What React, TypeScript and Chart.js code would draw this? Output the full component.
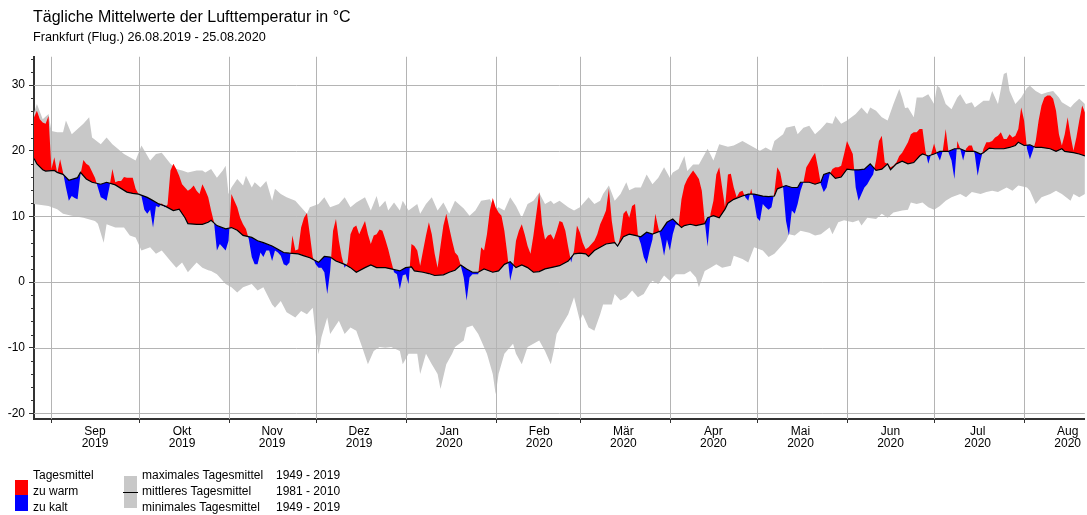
import React, { useEffect, useRef } from "react";
import { Chart, registerables } from "chart.js";

Chart.register(...registerables);

// x values are day offsets: day 0 = 26.08.2019, day 365 = 25.08.2020
const monthStarts = [6, 36, 67, 97, 128, 159, 188, 219, 249, 280, 310, 341];
const monthNames = ["Sep", "Okt", "Nov", "Dez", "Jan", "Feb", "Mär", "Apr", "Mai", "Jun", "Jul", "Aug"];
const monthYears = ["2019", "2019", "2019", "2019", "2020", "2020", "2020", "2020", "2020", "2020", "2020", "2020"];
const yTicks = [-20, -10, 0, 10, 20, 30];

// mittleres Tagesmittel 1981 - 2010
const meanSeries: [number, number][] = [
  [0, 18.8], [1, 18.0], [3, 17.1], [4, 16.9], [7, 17.0], [8, 16.7], [10, 16.4], [12, 15.5], [15, 15.9], [16, 16.7],
  [18, 15.7], [20, 15.2], [23, 14.9], [25, 15.2], [28, 14.8], [32, 13.7], [34, 13.5], [36, 13.4], [39, 12.9], [41, 12.4],
  [43, 11.9], [45, 11.6], [48, 10.9], [50, 11.1], [52, 9.8], [53, 8.9], [56, 8.8], [58, 8.8], [60, 9.1], [61, 9.4],
  [63, 8.6], [66, 8.1], [68, 8.3], [70, 7.9], [72, 7.1], [75, 6.8], [77, 6.3], [79, 6.0], [82, 5.5], [84, 5.0],
  [86, 4.5], [88, 4.4], [91, 4.3], [93, 4.0], [95, 3.7], [98, 3.0], [100, 3.9], [102, 3.8], [104, 3.2], [107, 2.7],
  [109, 2.2], [111, 1.5], [114, 2.2], [116, 2.6], [118, 2.2], [121, 2.2], [123, 2.0], [126, 1.7], [128, 2.2], [130, 2.3],
  [131, 1.7], [134, 1.5], [136, 1.3], [138, 1.0], [141, 1.1], [143, 1.5], [145, 1.8], [147, 2.6], [149, 2.0], [151, 1.5],
  [153, 1.5], [155, 2.0], [158, 1.5], [160, 1.7], [162, 2.7], [164, 3.1], [166, 2.2], [168, 2.6], [170, 2.2], [172, 1.5],
  [174, 1.6], [176, 2.0], [178, 2.2], [181, 2.5], [184, 3.2], [186, 4.3], [188, 4.4], [190, 4.3], [191, 3.9], [193, 4.8],
  [195, 5.3], [197, 5.8], [200, 6.0], [201, 5.5], [203, 6.9], [205, 7.3], [207, 7.1], [209, 6.9], [211, 7.6], [213, 7.3],
  [216, 7.8], [218, 9.1], [220, 9.6], [223, 8.3], [224, 8.6], [226, 8.8], [228, 8.6], [231, 8.9], [232, 9.8], [234, 10.1],
  [236, 9.8], [238, 11.1], [239, 12.0], [241, 12.6], [244, 13.1], [246, 13.4], [248, 13.4], [251, 13.1], [253, 13.0], [255, 13.1],
  [256, 14.2], [259, 14.7], [261, 14.4], [263, 14.4], [264, 15.2], [267, 15.2], [269, 14.9], [271, 15.2], [272, 16.4], [274, 16.7],
  [276, 15.8], [278, 16.0], [280, 17.2], [282, 17.1], [284, 17.1], [286, 17.2], [288, 18.0], [290, 17.0], [292, 17.2], [294, 18.0],
  [295, 17.1], [297, 18.0], [299, 18.4], [301, 18.0], [303, 18.2], [305, 19.2], [306, 19.5], [308, 19.2], [310, 19.5], [311, 19.7],
  [312, 19.9], [314, 19.9], [315, 19.9], [317, 20.3], [319, 20.3], [321, 19.9], [322, 19.9], [324, 19.9], [326, 19.5], [327, 19.7],
  [329, 20.4], [331, 20.3], [334, 20.3], [336, 20.5], [338, 20.8], [339, 21.3], [341, 20.8], [343, 20.9], [345, 20.5], [347, 20.5],
  [350, 20.3], [352, 19.9], [354, 20.3], [355, 19.9], [358, 19.7], [360, 19.5], [362, 19.2], [365, 19.3],
];

// maximales Tagesmittel 1949 - 2019
const maxSeries: [number, number][] = [
  [0, 25.8], [1, 27.1], [3, 24.8], [5, 25.6], [6, 23.0], [8, 22.8], [10, 22.8], [11, 24.6], [13, 22.5], [17, 24.1],
  [19, 25.1], [20, 22.0], [23, 21.0], [25, 22.0], [27, 21.0], [31, 19.5], [33, 19.0], [35, 18.5], [37, 20.8], [40, 18.5],
  [42, 19.5], [44, 19.7], [47, 18.0], [49, 17.2], [51, 17.0], [53, 16.7], [56, 17.0], [58, 17.0], [59, 16.7], [61, 17.2],
  [63, 15.9], [65, 17.0], [66, 17.7], [67, 13.4], [68, 14.4], [70, 15.7], [72, 14.7], [73, 16.2], [75, 14.4], [76, 15.2],
  [78, 14.4], [80, 15.4], [82, 12.4], [83, 14.2], [85, 13.4], [87, 12.9], [90, 12.4], [92, 11.4], [94, 10.4], [95, 11.4],
  [98, 11.9], [100, 12.9], [102, 11.4], [105, 11.9], [107, 12.9], [109, 11.4], [111, 12.1], [114, 12.9], [116, 10.9], [118, 13.1],
  [119, 11.4], [121, 12.4], [122, 10.9], [124, 12.1], [126, 10.9], [127, 12.4], [129, 10.9], [132, 11.9], [133, 10.4], [135, 11.9],
  [137, 12.9], [139, 10.9], [141, 12.1], [143, 10.4], [145, 12.4], [148, 11.2], [150, 10.1], [152, 10.9], [154, 12.4], [157, 12.6],
  [159, 11.0], [160, 11.4], [162, 10.9], [164, 12.9], [166, 11.6], [168, 9.8], [170, 11.9], [172, 12.4], [174, 13.6], [176, 11.9],
  [178, 12.4], [179, 11.9], [181, 12.4], [184, 11.4], [186, 10.9], [188, 11.4], [191, 12.9], [193, 11.9], [195, 12.4], [196, 13.4],
  [198, 14.7], [200, 12.4], [202, 13.4], [204, 15.2], [205, 14.0], [207, 14.4], [209, 14.4], [211, 16.4], [213, 14.9], [215, 15.9],
  [217, 17.5], [219, 15.9], [220, 16.7], [222, 17.2], [224, 19.2], [225, 16.9], [227, 17.9], [229, 17.9], [232, 20.3], [234, 18.5],
  [236, 21.0], [239, 20.6], [241, 20.8], [244, 21.5], [246, 21.0], [248, 20.5], [250, 20.0], [252, 20.5], [254, 20.0], [255, 21.5],
  [258, 22.5], [259, 23.5], [262, 23.8], [263, 22.5], [265, 23.5], [267, 23.8], [269, 22.5], [271, 23.3], [273, 24.3], [275, 24.1],
  [276, 25.3], [278, 24.1], [280, 24.6], [283, 25.6], [285, 26.6], [287, 25.6], [288, 26.6], [290, 26.1], [292, 25.1], [294, 24.6],
  [296, 27.1], [298, 29.4], [299, 28.1], [300, 26.5], [301, 26.6], [303, 25.1], [304, 28.1], [306, 28.1], [308, 28.6], [310, 27.1],
  [311, 29.9], [312, 29.6], [314, 27.1], [316, 26.3], [318, 28.1], [319, 28.6], [321, 27.1], [323, 27.4], [324, 26.6], [327, 27.6],
  [329, 27.6], [330, 29.1], [332, 27.1], [334, 31.7], [335, 31.9], [336, 29.1], [338, 27.1], [340, 28.1], [342, 29.6], [343, 29.9],
  [345, 29.1], [347, 28.6], [349, 28.9], [351, 29.1], [353, 28.1], [354, 27.4], [357, 26.6], [358, 27.1], [360, 27.9], [362, 27.1],
  [365, 27.5],
];

// minimales Tagesmittel 1949 - 2019
const minSeries: [number, number][] = [
  [0, 11.9], [5, 11.6], [8, 11.1], [10, 10.4], [13, 10.1], [17, 9.8], [21, 9.3], [22, 8.9], [24, 6.0], [25, 8.8],
  [28, 8.3], [31, 8.3], [33, 7.1], [35, 6.8], [37, 4.8], [40, 5.3], [42, 4.3], [44, 4.8], [47, 3.2], [49, 2.2],
  [51, 3.0], [53, 1.5], [56, 3.0], [58, 2.2], [60, 1.8], [61, 1.7], [63, 1.2], [66, -0.3], [68, -0.8], [70, -1.6],
  [72, -0.8], [75, -0.3], [77, -1.3], [79, -0.8], [82, -3.4], [83, -3.9], [85, -2.9], [87, -4.6], [90, -5.4], [92, -4.4],
  [94, -4.9], [96, -3.9], [97, -7.9], [98, -11.0], [99, -8.4], [101, -5.4], [102, -7.9], [105, -5.9], [107, -7.9], [109, -6.9],
  [111, -7.4], [113, -9.9], [115, -12.5], [117, -10.5], [119, -9.9], [121, -10.0], [123, -9.9], [126, -10.5], [127, -12.5], [129, -10.9],
  [132, -10.9], [133, -14.0], [135, -10.9], [137, -12.5], [139, -14.0], [140, -16.3], [142, -12.5], [144, -10.9], [145, -9.9], [148, -8.9],
  [149, -6.9], [151, -6.6], [153, -7.9], [154, -8.9], [156, -10.9], [158, -14.0], [159, -17.1], [160, -14.0], [162, -10.9], [164, -9.9],
  [165, -9.4], [166, -10.9], [168, -12.5], [170, -9.9], [172, -9.4], [174, -8.9], [176, -10.5], [178, -12.5], [179, -10.5], [180, -7.9],
  [182, -6.4], [184, -4.9], [186, -2.3], [188, -5.9], [189, -4.9], [191, -6.9], [193, -7.4], [195, -4.9], [196, -3.4], [199, -3.4],
  [200, -1.8], [202, -2.8], [204, -2.3], [206, -1.3], [208, -2.3], [210, -1.8], [212, -0.3], [213, 0.2], [215, -0.3], [217, 1.0],
  [219, 0.2], [221, 1.2], [224, 1.2], [226, 1.7], [228, 0.7], [229, -0.8], [231, 1.7], [233, 2.2], [235, 2.7], [237, 2.2],
  [240, 2.5], [241, 4.0], [244, 3.5], [246, 3.0], [248, 5.3], [251, 4.8], [253, 3.8], [255, 4.3], [257, 5.3], [259, 6.3],
  [260, 7.3], [262, 7.1], [264, 7.8], [267, 7.5], [269, 7.1], [271, 7.3], [274, 8.3], [275, 7.3], [277, 9.1], [279, 9.4],
  [282, 9.1], [284, 9.4], [285, 8.6], [287, 9.8], [290, 9.6], [292, 10.4], [294, 9.8], [296, 10.6], [299, 10.9], [301, 11.0],
  [302, 12.1], [304, 11.9], [306, 12.1], [308, 11.4], [310, 11.0], [312, 11.6], [314, 12.4], [316, 12.9], [319, 13.4], [321, 12.9],
  [323, 13.7], [326, 13.4], [328, 13.7], [330, 13.9], [332, 13.7], [335, 14.4], [337, 13.9], [339, 14.7], [342, 14.4], [343, 13.9],
  [345, 11.9], [347, 12.9], [350, 13.4], [352, 13.9], [354, 13.4], [357, 12.4], [358, 13.4], [360, 12.9], [362, 13.4], [365, 13.0],
];

// Tagesmittel 26.08.2019 - 25.08.2020 (Frankfurt Flughafen)
const actualSeries: [number, number][] = [
  [0, 25.1], [1, 26.1], [2, 24.8], [3, 24.3], [4, 24.1], [5, 25.3], [6, 17.2], [7, 19.0], [8, 16.6], [9, 18.7],
  [10, 16.7], [11, 14.4], [12, 12.4], [13, 13.1], [14, 12.8], [15, 12.6], [16, 16.4], [17, 18.6], [18, 18.0], [19, 17.7],
  [20, 16.8], [21, 15.9], [22, 14.4], [23, 12.9], [24, 12.7], [25, 12.4], [26, 14.5], [27, 17.2], [28, 15.2], [29, 15.4],
  [30, 15.4], [31, 16.0], [32, 15.9], [33, 15.9], [34, 15.9], [35, 14.2], [36, 13.4], [37, 13.1], [38, 11.0], [39, 10.4],
  [40, 11.0], [41, 8.3], [42, 11.6], [43, 11.4], [44, 12.0], [45, 11.4], [46, 11.8], [47, 17.0], [48, 18.0], [49, 17.2],
  [50, 16.2], [51, 14.9], [52, 14.4], [53, 13.9], [54, 14.2], [55, 14.7], [56, 13.9], [57, 13.4], [58, 14.9], [59, 14.0],
  [60, 12.9], [61, 10.9], [62, 9.1], [63, 4.8], [64, 5.8], [65, 5.3], [66, 4.8], [67, 6.3], [68, 13.4], [69, 12.4],
  [70, 11.4], [71, 9.8], [72, 8.8], [73, 8.1], [74, 6.5], [75, 3.8], [76, 2.7], [77, 2.7], [78, 4.5], [79, 3.8],
  [80, 4.8], [81, 4.8], [82, 3.2], [83, 4.8], [84, 4.5], [85, 4.0], [86, 2.7], [87, 2.5], [88, 3.0], [89, 7.1],
  [90, 4.8], [91, 5.0], [92, 8.3], [93, 9.8], [94, 10.5], [95, 7.3], [96, 3.8], [97, 2.7], [98, 2.2], [99, 2.2],
  [100, 1.5], [101, -1.8], [102, 1.7], [103, 7.8], [104, 9.6], [105, 6.3], [106, 3.8], [107, 2.2], [108, 3.0], [109, 7.3],
  [110, 8.3], [111, 8.6], [112, 7.3], [113, 8.3], [114, 9.3], [115, 7.3], [116, 5.8], [117, 7.1], [118, 7.3], [119, 8.0],
  [120, 7.8], [121, 6.5], [122, 5.0], [123, 3.2], [124, 1.5], [125, 1.2], [126, -1.1], [127, 1.0], [128, 1.2], [129, -0.3],
  [130, 5.8], [131, 5.5], [132, 4.8], [133, 2.5], [134, 4.8], [135, 7.1], [136, 9.1], [137, 7.3], [138, 4.3], [139, 2.2],
  [140, 5.5], [141, 8.6], [142, 10.4], [143, 8.3], [144, 6.3], [145, 4.5], [146, 4.0], [147, 2.5], [148, 0.7], [149, -2.8],
  [150, 0.7], [151, 1.2], [152, 1.2], [153, 1.2], [154, 5.3], [155, 4.8], [156, 7.3], [157, 10.9], [158, 12.8], [159, 11.4],
  [160, 10.6], [161, 10.1], [162, 7.8], [163, 4.3], [164, 0.2], [165, 2.2], [166, 6.3], [167, 7.8], [168, 8.8], [169, 7.3],
  [170, 5.5], [171, 4.3], [172, 7.1], [173, 10.4], [174, 13.7], [175, 8.8], [176, 6.5], [177, 7.1], [178, 7.3], [179, 6.5],
  [180, 7.8], [181, 9.3], [182, 9.1], [183, 7.8], [184, 5.3], [185, 3.0], [186, 4.8], [187, 8.6], [188, 7.6], [189, 6.0],
  [190, 5.0], [191, 5.3], [192, 5.8], [193, 6.3], [194, 7.3], [195, 8.8], [196, 9.8], [197, 10.9], [198, 14.2], [199, 9.3],
  [200, 6.3], [201, 5.3], [202, 7.1], [203, 10.4], [204, 10.9], [205, 9.8], [206, 11.6], [207, 11.9], [208, 7.1], [209, 5.8],
  [210, 3.8], [211, 2.8], [212, 4.8], [213, 6.5], [214, 10.4], [215, 8.3], [216, 6.5], [217, 4.0], [218, 6.5], [219, 4.8],
  [220, 7.3], [221, 8.8], [222, 8.6], [223, 12.6], [224, 14.7], [225, 15.7], [226, 16.4], [227, 17.0], [228, 16.4], [229, 15.7],
  [230, 13.9], [231, 9.3], [232, 5.4], [233, 10.4], [234, 12.4], [235, 16.4], [236, 17.5], [237, 14.4], [238, 11.4], [239, 16.4],
  [240, 16.5], [241, 14.4], [242, 12.9], [243, 13.7], [244, 13.9], [245, 12.9], [246, 12.4], [247, 14.2], [248, 12.4], [249, 9.8],
  [250, 9.3], [251, 11.9], [252, 11.4], [253, 11.0], [254, 11.4], [255, 13.7], [256, 17.5], [257, 16.7], [258, 14.4], [259, 9.3],
  [260, 7.1], [261, 10.9], [262, 10.4], [263, 11.9], [264, 13.9], [265, 15.2], [266, 17.5], [267, 18.2], [268, 19.0], [269, 19.7],
  [270, 17.5], [271, 14.9], [272, 13.7], [273, 14.4], [274, 16.4], [275, 17.2], [276, 17.5], [277, 17.5], [278, 17.7], [279, 19.5],
  [280, 21.5], [281, 20.5], [282, 19.5], [283, 14.4], [284, 12.4], [285, 13.4], [286, 14.4], [287, 14.9], [288, 15.7], [289, 16.4],
  [290, 18.5], [291, 21.5], [292, 22.3], [293, 18.2], [294, 18.0], [295, 17.5], [296, 17.7], [297, 18.2], [298, 19.2], [299, 19.7],
  [300, 20.5], [301, 21.3], [302, 22.5], [303, 22.8], [304, 22.8], [305, 23.3], [306, 23.3], [307, 20.0], [308, 18.0], [309, 19.5],
  [310, 21.1], [311, 19.5], [312, 18.5], [313, 20.0], [314, 23.3], [315, 19.7], [316, 18.5], [317, 15.7], [318, 21.5], [319, 20.3],
  [320, 18.5], [321, 20.3], [322, 20.8], [323, 20.8], [324, 19.5], [325, 16.2], [326, 18.5], [327, 20.3], [328, 21.3], [329, 21.3],
  [330, 21.5], [331, 22.0], [332, 22.3], [333, 22.8], [334, 21.8], [335, 21.8], [336, 22.5], [337, 22.0], [338, 22.3], [339, 23.3],
  [340, 26.6], [341, 24.6], [342, 20.3], [343, 18.7], [344, 20.0], [345, 21.5], [346, 24.6], [347, 26.9], [348, 28.1], [349, 28.4],
  [350, 28.4], [351, 27.9], [352, 26.1], [353, 22.5], [354, 20.8], [355, 22.5], [356, 25.1], [357, 22.3], [358, 20.0], [359, 22.0],
  [360, 24.6], [361, 26.9], [362, 25.8], [363, 24.0], [364, 22.0], [365, 21.0],
];

const FONT = "'Liberation Sans', Arial, sans-serif";
const BAND = "#c8c8c8";
const GRID = "#b4b4b4";
const AXIS = "#333333";
const X_MAX = 361.94;

const toPoints = (s: [number, number][]) => s.map(([x, y]) => ({ x, y }));

const gridPlugin = {
  id: "gridOverBand",
  afterDatasetDraw(chart: any, args: any) {
    if (args.index !== 2) return;
    const { ctx, chartArea } = chart;
    const xs = chart.scales.x;
    const ys = chart.scales.y;
    ctx.save();
    ctx.beginPath();
    ctx.rect(chartArea.left, chartArea.top, chartArea.right - chartArea.left, chartArea.bottom - chartArea.top);
    ctx.clip();
    ctx.strokeStyle = GRID;
    ctx.lineWidth = 1;
    ctx.beginPath();
    monthStarts.forEach((d) => {
      const px = Math.round(xs.getPixelForValue(d)) + 0.5;
      ctx.moveTo(px, chartArea.top);
      ctx.lineTo(px, chartArea.bottom);
    });
    yTicks.forEach((v) => {
      const py = Math.round(ys.getPixelForValue(v)) + 0.5;
      ctx.moveTo(chartArea.left, py);
      ctx.lineTo(chartArea.right, py);
    });
    ctx.stroke();
    ctx.restore();
  },
  afterDraw(chart: any) {
    const { ctx, chartArea } = chart;
    const xs = chart.scales.x;
    const ys = chart.scales.y;
    ctx.save();
    ctx.strokeStyle = AXIS;
    ctx.lineWidth = 1;
    ctx.beginPath();
    for (let v = -20; v <= 34; v += 2) {
      if (v % 10 === 0) continue;
      const py = Math.round(ys.getPixelForValue(v)) + 0.5;
      ctx.moveTo(chartArea.left - 3, py);
      ctx.lineTo(chartArea.left, py);
    }
    monthStarts.forEach((d) => {
      const px = Math.round(xs.getPixelForValue(d)) + 0.5;
      ctx.moveTo(px, chartArea.bottom);
      ctx.lineTo(px, chartArea.bottom + 4);
    });
    ctx.stroke();
    ctx.restore();
  },
};

const textStyle = (left: number, top: number, size: number): React.CSSProperties => ({
  position: "absolute",
  left,
  top,
  fontFamily: FONT,
  fontSize: size,
  lineHeight: `${size}px`,
  color: "#000",
  whiteSpace: "nowrap",
});

const box = (left: number, top: number, w: number, h: number, bg: string): React.CSSProperties => ({
  position: "absolute",
  left,
  top,
  width: w,
  height: h,
  background: bg,
});

export default function App() {
  const canvasRef = useRef<HTMLCanvasElement | null>(null);

  useEffect(() => {
    if (!canvasRef.current) return;
    const chart = new Chart(canvasRef.current, {
      type: "line",
      data: {
        datasets: [
          {
            label: "mittleres Tagesmittel",
            data: toPoints(meanSeries),
            borderColor: "#000000",
            borderWidth: 1.2,
            pointRadius: 0,
            fill: false,
            tension: 0,
          },
          {
            label: "Tagesmittel",
            data: toPoints(actualSeries),
            borderColor: "rgba(0,0,0,0)",
            borderWidth: 0,
            pointRadius: 0,
            tension: 0,
            fill: { target: 0, above: "#ff0000", below: "#0000ff" },
          },
          {
            label: "maximales Tagesmittel",
            data: toPoints(maxSeries),
            borderColor: "rgba(0,0,0,0)",
            borderWidth: 0,
            pointRadius: 0,
            tension: 0,
            backgroundColor: BAND,
            fill: "+1",
          },
          {
            label: "minimales Tagesmittel",
            data: toPoints(minSeries),
            borderColor: "rgba(0,0,0,0)",
            borderWidth: 0,
            pointRadius: 0,
            tension: 0,
            fill: false,
          },
        ],
      },
      options: {
        animation: false,
        responsive: false,
        maintainAspectRatio: false,
        devicePixelRatio: 1,
        events: [],
        layout: { padding: { top: 56.5, left: 0, right: 0, bottom: 0 } },
        plugins: {
          legend: { display: false },
          tooltip: { enabled: false },
          title: { display: false },
        },
        scales: {
          x: {
            type: "linear",
            min: 0,
            max: X_MAX,
            afterBuildTicks: (s: any) => {
              s.ticks = monthStarts.map((d) => ({ value: d + 15 }));
            },
            afterFit: (s: any) => {
              s.height = 96;
            },
            ticks: {
              autoSkip: false,
              maxRotation: 0,
              minRotation: 0,
              padding: 6,
              color: "#000",
              font: { family: FONT, size: 12, lineHeight: 1.05 },
              callback: (_v: any, i: number) => [monthNames[i], monthYears[i]],
            },
            grid: { display: false, drawTicks: false },
            border: { display: true, color: AXIS, width: 2 },
          },
          y: {
            type: "linear",
            min: -20.85,
            max: 34.35,
            afterBuildTicks: (s: any) => {
              s.ticks = yTicks.map((v) => ({ value: v }));
            },
            afterFit: (s: any) => {
              s.width = 34;
            },
            ticks: {
              autoSkip: false,
              padding: 4,
              color: "#000",
              font: { family: FONT, size: 12 },
            },
            grid: { display: true, drawOnChartArea: false, drawTicks: true, tickLength: 5, color: AXIS, lineWidth: 1 },
            border: { display: true, color: AXIS, width: 2 },
          },
        },
      },
      plugins: [gridPlugin],
    } as any);
    return () => chart.destroy();
  }, []);

  return (
    <div style={{ position: "absolute", left: 0, top: 0, width: 1087, height: 515, background: "#fff", overflow: "hidden" }}>
      <canvas ref={canvasRef} width={1087} height={515} style={{ position: "absolute", left: 0, top: 0, width: 1087, height: 515 }} />
      <div style={textStyle(33, 9, 16)}>Tägliche Mittelwerte der Lufttemperatur in °C</div>
      <div style={textStyle(33, 31, 12.7)}>Frankfurt (Flug.) 26.08.2019 - 25.08.2020</div>

      <div style={box(15, 480, 13, 15, "#ff0000")} />
      <div style={box(15, 495, 13, 16, "#0000ff")} />
      <div style={textStyle(33, 469, 12)}>Tagesmittel</div>
      <div style={textStyle(33, 485, 12)}>zu warm</div>
      <div style={textStyle(33, 501, 12)}>zu kalt</div>

      <div style={box(124, 476, 13, 32, BAND)} />
      <div style={box(123, 492, 15, 1, "#000")} />
      <div style={textStyle(142, 469, 12)}>maximales Tagesmittel</div>
      <div style={textStyle(142, 485, 12)}>mittleres Tagesmittel</div>
      <div style={textStyle(142, 501, 12)}>minimales Tagesmittel</div>
      <div style={textStyle(276, 469, 12)}>1949 - 2019</div>
      <div style={textStyle(276, 485, 12)}>1981 - 2010</div>
      <div style={textStyle(276, 501, 12)}>1949 - 2019</div>
    </div>
  );
}
